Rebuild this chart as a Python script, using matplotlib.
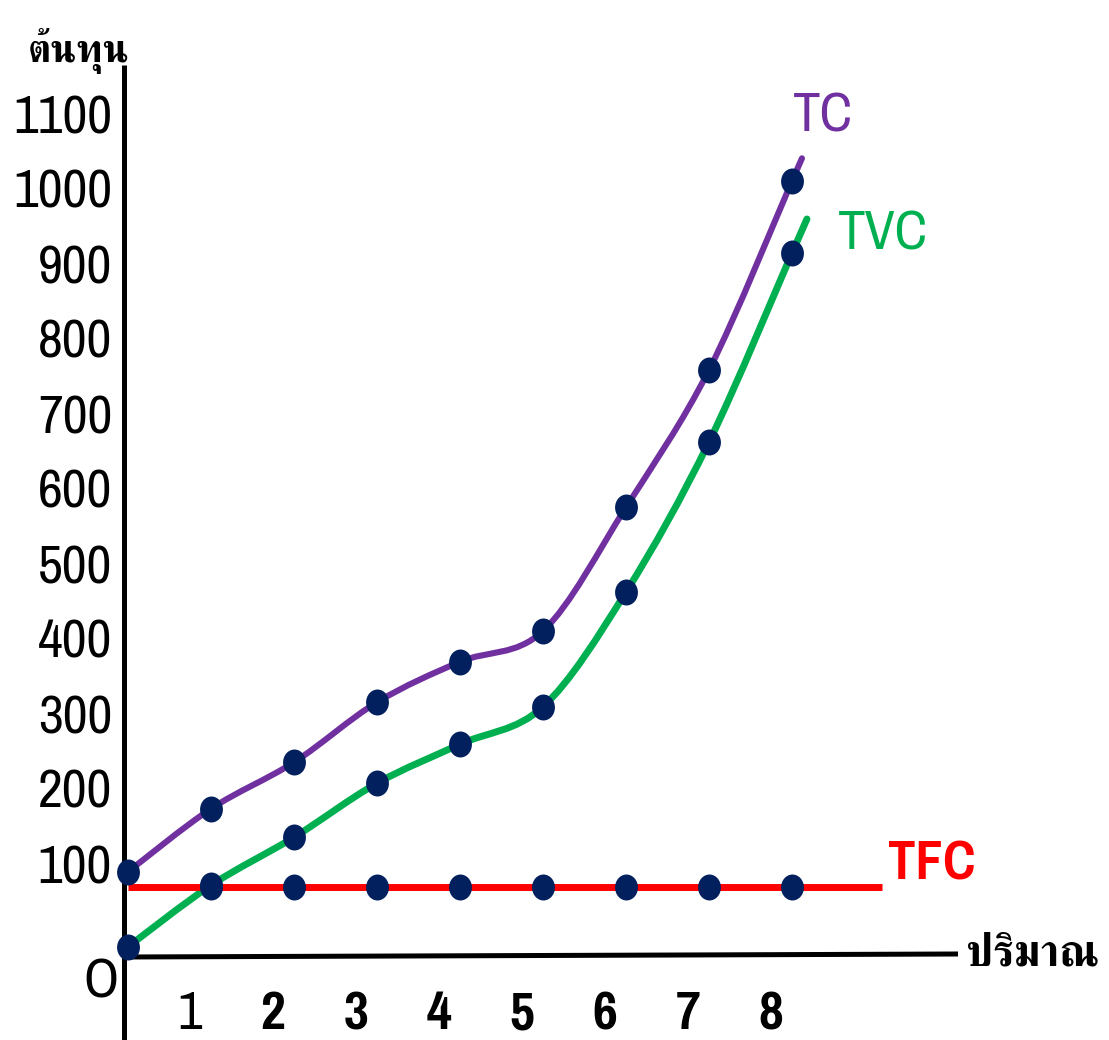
import numpy as np
import matplotlib
matplotlib.use('Agg')
import matplotlib.pyplot as plt
from matplotlib.path import Path
from matplotlib.patches import PathPatch
from matplotlib.transforms import Affine2D, IdentityTransform, blended_transform_factory, offset_copy

# quantity produced and the three cost series
quantity = [0, 1, 2, 3, 4, 5, 6, 7, 8]
tc = [87, 171, 233, 313, 367, 408, 573, 756, 1008]
tvc = [-13, 69, 133, 205, 257, 307, 460, 660, 912]
tfc_q = [1, 2, 3, 4, 5, 6, 7, 8]
tfc = [67, 67, 67, 67, 67, 67, 67, 67]

y_ticks = [100, 200, 300, 400, 500, 600, 700, 800, 900, 1000, 1100]
x_labels = ['1', '2', '3', '4', '5', '6', '7', '8']

PURPLE = '#7030a0'
GREEN = '#00b050'
RED = '#ff0000'
NAVY = '#03205e'

W, H = 1109, 1040
NUM_FONT = ['Pragati Narrow', 'DejaVu Sans']
THAI_FONT = ['FreeSerif', 'DejaVu Sans']


def smooth_path(xs, ys, tail=0.0):
    '''Catmull-Rom curve through the points, drawn as cubic beziers.'''
    pts = np.column_stack([xs, ys]).astype(float)
    ext = np.vstack([pts[0], pts, pts[-1]])
    verts, codes = [pts[0]], [Path.MOVETO]
    for i in range(len(pts) - 1):
        p0, p1, p2, p3 = ext[i], ext[i + 1], ext[i + 2], ext[i + 3]
        verts += [p1 + (p2 - p0) / 6, p2 - (p3 - p1) / 6, p2]
        codes += [Path.CURVE4] * 3
    if tail:
        verts.append(pts[-1] + tail * (pts[-1] - pts[-2]))
        codes.append(Path.LINETO)
    return Path(verts, codes)


fig = plt.figure(figsize=(W / 100, H / 100), dpi=100)
ax = fig.add_axes([0, 0, 1, 1])
# 83 px per unit of quantity, 0.75 px per unit of cost
ax.set_xlim(-128 / 83, (W - 128) / 83)
ax.set_ylim(100 - (H - 862) / 0.75, 100 + 862 / 0.75)
ax.axis('off')

pix = IdentityTransform()

# axes drawn by hand, the y axis runs below the x axis
ax.plot([124, 124], [H - 65, 0], color='black', lw=3.6, transform=pix,
        solid_capstyle='butt', zorder=1)
ax.plot([124, 958], [H - 957, H - 954], color='black', lw=3.6, transform=pix,
        solid_capstyle='butt', zorder=1)

# cost curves
ax.add_patch(PathPatch(smooth_path(quantity, tvc, tail=0.18), fill=False,
                       ec=GREEN, lw=5, capstyle='round', zorder=2))
ax.add_patch(PathPatch(smooth_path(quantity, tc, tail=0.12), fill=False,
                       ec=PURPLE, lw=4.4, capstyle='round', zorder=2))
ax.hlines(tfc[0], 0, 9.08, color=RED, lw=5, zorder=2.5)

dot = Path.unit_circle().transformed(Affine2D().scale(0.88, 1.0))
for xs, ys in [(quantity, tc), (quantity, tvc), (tfc_q, tfc)]:
    ax.plot(xs, ys, ls='none', marker=dot, ms=18.7, mfc=NAVY, mec='none', zorder=3)

# y tick labels, baseline sits 21 px under the value
ytrans = offset_copy(blended_transform_factory(pix, ax.transData), fig, y=-21, units='dots')
for v in y_ticks:
    ax.text(112, v, str(v), ha='right', va='baseline', fontsize=42.5,
            family=NUM_FONT, transform=ytrans)

# x tick labels, shifted a little left of each quantity
xtrans = offset_copy(blended_transform_factory(ax.transData, pix), fig, x=-21, units='dots')
for q, lab in zip(quantity[1:], x_labels):
    ax.text(q, H - 1029, lab, ha='center', va='baseline', fontsize=42.5,
            fontweight='normal' if lab == '1' else 'bold', family=NUM_FONT,
            transform=xtrans)

ax.text(101, H - 997, 'O', ha='center', va='baseline', fontsize=43,
        family=NUM_FONT, transform=pix)

# curve names
ax.text(793, H - 132, 'TC', color=PURPLE, ha='left', va='baseline',
        fontsize=43, family=NUM_FONT, transform=pix)
ax.text(838, H - 249, 'TVC', color=GREEN, ha='left', va='baseline',
        fontsize=43, family=NUM_FONT, transform=pix)
ax.text(888, H - 880, 'TFC', color=RED, ha='left', va='baseline',
        fontsize=43, fontweight='bold', family=NUM_FONT, transform=pix)

# axis titles, sized to their width
t_cost = ax.text(28, H - 62, 'ต้นทุน', ha='left', va='baseline', fontsize=40,
                 fontweight='bold', family=THAI_FONT, transform=pix)
t_qty = ax.text(966, H - 965, 'ปริมาณ', ha='left', va='baseline', fontsize=40,
                fontweight='bold', family=THAI_FONT, transform=pix)
renderer = fig.canvas.get_renderer()
for t, width in [(t_cost, 102), (t_qty, 133)]:
    w = t.get_window_extent(renderer).width
    t.set_fontsize(t.get_fontsize() * width / w)

fig.savefig('out.png', dpi=100)
